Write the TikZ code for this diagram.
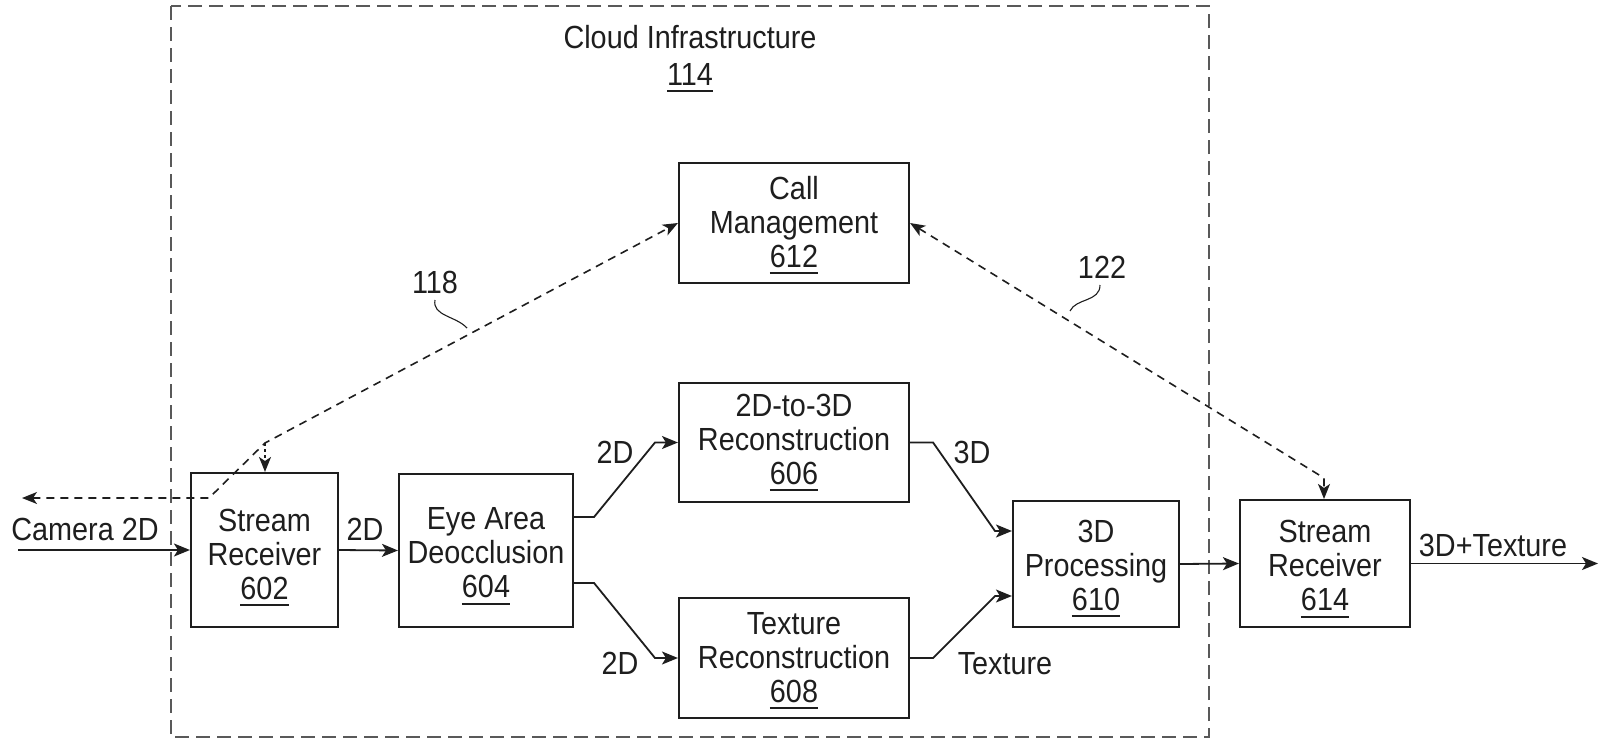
\documentclass[tikz,border=0pt]{standalone}
\usepackage{fontspec}
\setmainfont{Liberation Sans}[FakeStretch=0.9]
\usetikzlibrary{arrows.meta}
\newcommand\dfont{\fontsize{32}{34}\selectfont}
\newcommand\uln[1]{\setbox0\hbox{#1}\leavevmode\rlap{\rule[-7pt]{\wd0}{1.8pt}}\box0}
\newcommand\sh[1]{\rule{0pt}{#1pt}}
\definecolor{ink}{HTML}{1E1E1E}
\begin{document}
\begin{tikzpicture}[x=1pt,y=-1pt,
  every node/.style={text=ink},
  blk/.style={draw=ink, line width=2.1pt, font=\dfont, align=center, inner sep=0pt},
  lbl/.style={font=\dfont, inner sep=0pt, anchor=base},
  flow/.style={draw=ink, line width=1.8pt, -{Stealth[length=16pt,width=13pt,inset=4pt]}},
  sig/.style={draw=ink, line width=1.6pt, dash pattern=on 8pt off 6pt},
  sigtip/.style={{Stealth[length=15pt,width=12pt,inset=4pt]}-{Stealth[length=15pt,width=12pt,inset=4pt]}},
  cloudb/.style={draw=black!65, line width=2.2pt, dash pattern=on 14pt off 7pt},
  leader/.style={draw=ink, line width=1.1pt}]
\useasboundingbox (0,0) rectangle (1608,739);

% cloud boundary
\draw[cloudb] (171,6) rectangle (1209,737);

% blocks
\node[blk, minimum width=147pt, minimum height=154pt] (b602) at (264.5,550) {\sh{37}Stream\\Receiver\\\uln{602}};
\node[blk, minimum width=174pt, minimum height=153pt] (b604) at (486,550.5) {\sh{33}Eye Area\\Deocclusion\\\uln{604}};
\node[blk, minimum width=230pt, minimum height=119pt] (b606) at (794,442.5) {2D-to-3D\\Reconstruction\\\uln{606}};
\node[blk, minimum width=230pt, minimum height=120pt] (b608) at (794,658) {\sh{27}Texture\\Reconstruction\\\uln{608}};
\node[blk, minimum width=166pt, minimum height=126pt] (b610) at (1096,564) {\sh{31}3D\\Processing\\\uln{610}};
\node[blk, minimum width=230pt, minimum height=120pt] (b612) at (794,223) {\sh{27}Call\\Management\\\uln{612}};
\node[blk, minimum width=170pt, minimum height=127pt] (b614) at (1325,563.5) {\sh{33}Stream\\Receiver\\\uln{614}};

% data flow
\coordinate (cam) at (18,550);
\coordinate (out) at (1598,563.5);
\draw[flow] (cam) -- (b602.west);
\draw[flow] (b602.east) -- (b604.west);
\draw[flow] ([yshift=33.5pt]b604.east) -- ++(20,0) -- (655,442.5) -- (b606.west);
\draw[flow] ([yshift=-32.5pt]b604.east) -- ++(20,0) -- (655,658) -- (b608.west);
\draw[flow] (b606.east) -- ++(23,0) -- (995,531) -- ([yshift=33pt]b610.west);
\draw[flow] (b608.east) -- ++(23,0) -- (995,596) -- ([yshift=-32pt]b610.west);
\draw[flow] (b610.east) -- (b614.west);
\draw[flow] (b614.east) -- (out);

% signalling paths
\coordinate (k1) at (265,443);
\coordinate (k2) at (209,498);
\coordinate (lend) at (22,498);
\draw[sig, sigtip] (lend) -- (k2) -- (k1) -- (b612.west);
\draw[draw=ink, line width=1.3pt, dash pattern=on 3pt off 3pt, -{Stealth[length=15pt,width=12pt,inset=4pt]}] (k1) -- (b602.north -| k1);
\coordinate (k3) at (1324,478);
\draw[sig, sigtip] (b612.east) -- (k3) -- (b614.north -| k3);
\draw[leader] (435,300) .. controls (432,316) and (456,316) .. (467,328);
\draw[leader] (1100,285) .. controls (1100,302) and (1076,298) .. (1070,311);

% labels
\node[lbl] (cloudt) at (690,48) {Cloud Infrastructure};
\node[lbl] (cloudn) at (690,85) {\uln{114}};
\node[lbl] (lcam) at (85,540) {Camera 2D};
\node[lbl] (l2da) at (365,540) {2D};
\node[lbl] (l2db) at (615,463) {2D};
\node[lbl] (l2dc) at (620,674) {2D};
\node[lbl] (l3d) at (972,463) {3D};
\node[lbl] (ltex) at (1005,674) {Texture};
\node[lbl] (lout) at (1493,556) {3D+Texture};
\node[lbl] (r118) at (435,293) {118};
\node[lbl] (r122) at (1102,278) {122};
\end{tikzpicture}
\end{document}
